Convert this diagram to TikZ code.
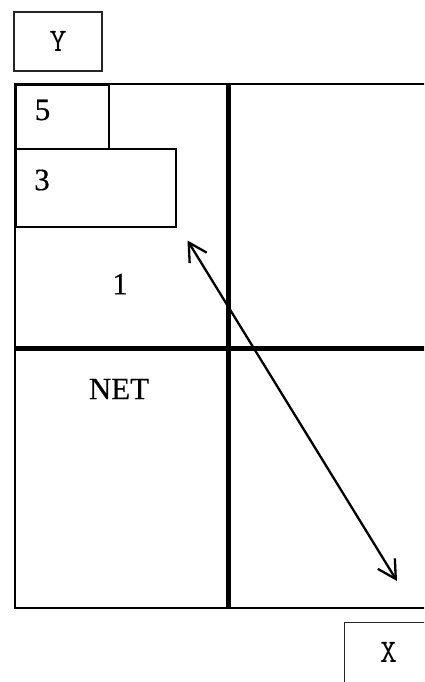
\documentclass[tikz,border=0pt]{standalone}
\usepackage{fontspec}
\setmainfont{Liberation Serif}
\newfontfamily\labelserif[FakeBold=0.4]{Liberation Serif}
\newfontfamily\labelmono{Latin Modern Mono}
\usetikzlibrary{arrows.meta}
\tikzset{
  x=1pt, y=-1pt,
  axisfont/.style={font=\labelmono\fontsize{33}{38}\selectfont},
  axisbox/.style={draw=black!85, line width=1.3pt, inner sep=0pt, axisfont},
  frameline/.style={line width=2.6pt},
  crossline/.style={line width=5pt},
  tabbox/.style={draw, line width=2.3pt, inner sep=0pt, anchor=north west},
  lbl/.style={font=\labelserif\fontsize{31}{36}\selectfont, inner sep=0pt},
  dblarrow/.style={line width=2.3pt,
    {Straight Barb[length=18pt, width=20pt, line width=2.3pt]}-{Straight Barb[length=18pt, width=20pt, line width=2.3pt]}}
}
\begin{document}
\begin{tikzpicture}
\clip (0,0) rectangle (424,682);
\fill[white] (0,0) rectangle (424,682);

% axis labels
\node[axisbox, minimum width=88pt, minimum height=59pt] (ybox) at (58,41.5) {Y};
\node[axisbox, minimum width=100pt, minimum height=100pt, anchor=north west] (xbox) at (344,622) {};
\node[axisfont, inner sep=0pt] (xlbl) at (388.5,652) {X};

% outer frame (open on the right)
\coordinate (tl) at (15,84);
\coordinate (tr) at (430,84);
\coordinate (bl) at (15,608);
\coordinate (br) at (430,608);
\draw[frameline] (tr) -- (tl) -- (bl) -- (br);

% quadrant dividers
\coordinate (vtop) at (228.5,84);
\coordinate (vbot) at (228.5,608);
\coordinate (hl) at (15,348);
\coordinate (hr) at (430,348);
\draw[crossline] (vtop) -- (vbot);
\draw[crossline] (hl) -- (hr);

% boxes in the upper-left quadrant
\node[tabbox, minimum width=93pt, minimum height=64pt] (five) at (15,84) {};
\node[tabbox, minimum width=160pt, minimum height=78pt] (three) at (15,148) {};
\node[lbl] (l5) at (42.5,110) {5};
\node[lbl] (l3) at (42,180) {3};
\node[lbl] (l1) at (120,284) {1};
\node[lbl] (net) at (119,389) {NET};

% diagonal double arrow
\coordinate (a1) at (187.5,240.5);
\coordinate (a2) at (397,581);
\draw[dblarrow] (a1) -- (a2);
\end{tikzpicture}
\end{document}
